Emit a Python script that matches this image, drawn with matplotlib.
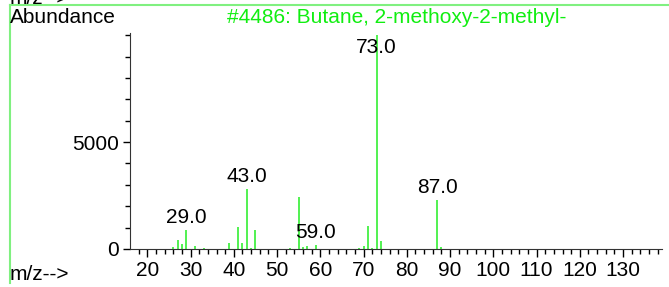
import matplotlib
matplotlib.use("Agg")
import matplotlib.pyplot as plt

plt.rcParams['font.family'] = ['Liberation Sans', 'DejaVu Sans']

# spectrum #4486
mz = [26, 27, 28, 29, 31, 33, 39, 41, 42, 43, 44, 45, 53, 55, 56, 57, 59,
      69, 70, 71, 72, 73, 74, 87, 88]
abundance = [75, 400, 215, 900, 120, 60, 280, 1030, 295, 2820, 50, 890, 60,
             2445, 80, 155, 190, 30, 120, 1090, 50, 9999, 390, 2300, 110]
labeled = [29, 43, 59, 73, 87]
title = "#4486: Butane, 2-methoxy-2-methyl-"

fig = plt.figure(figsize=(6.69, 2.87), dpi=100)
ax = fig.add_axes([130/669, 38/287, 532/669, 216/287])

green = '#22ee22'
ax.vlines(mz, 0, abundance, colors=green, linewidth=1.1)

for m in labeled:
    h = abundance[mz.index(m)]
    if h > 8000:
        ax.text(m, 9000, f"{m:.1f}", ha='center', va='bottom', fontsize=15)
    else:
        ax.annotate(f"{m:.1f}", (m, h), xytext=(0, 2), textcoords='offset points',
                    ha='center', va='bottom', fontsize=15)

ax.set_xlim(16, 139)
ax.set_ylim(0, 10100)
ax.set_xticks(range(20, 131, 10))
ax.set_xticks(range(18, 139, 2), minor=True)
ax.set_yticks([0, 5000])
ax.set_yticks(range(0, 10001, 1000), minor=True)
ax.tick_params(axis='both', which='major', labelsize=15, length=6, width=1, pad=3)
ax.tick_params(axis='both', which='minor', length=3.5, width=1)
ax.tick_params(axis='y', which='major', length=5)
for s in ['top', 'right']:
    ax.spines[s].set_visible(False)
for s in ['left', 'bottom']:
    ax.spines[s].set_color('#333333')
ax.patch.set_alpha(0)

# green frame from the stacked report
frame = '#80f080'
fig.add_artist(plt.Line2D([10/669, 1], [1 - 5/287, 1 - 5/287], color=frame, lw=1.5,
                          transform=fig.transFigure))
fig.add_artist(plt.Line2D([10/669, 10/669], [1 - 5/287, 4/287], color=frame, lw=1.5,
                          transform=fig.transFigure))

# bottom of the previous panel's axis label, cut by the edge
fig.text(10/669, 1 + 11/287, "m/z-->", fontsize=15, va='top', ha='left')
fig.text(10/669, 1 - 8/287, "Abundance", fontsize=15, va='top', ha='left')
fig.text(397/669, 1 - 8/287, title, fontsize=15, va='top', ha='center', color='#11ee11')
fig.text(10/669, 3/287, "m/z-->", fontsize=15, va='bottom', ha='left')

fig.savefig("out.png", dpi=100)
